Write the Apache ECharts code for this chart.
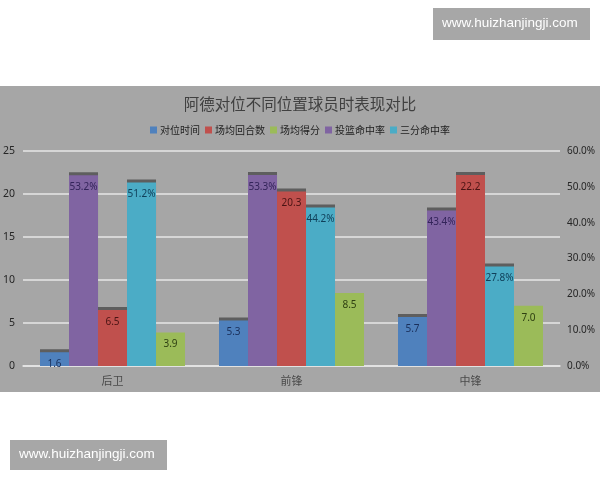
<!DOCTYPE html>
<html><head><meta charset="utf-8">
<script src="https://cdn.jsdelivr.net/npm/echarts@6/dist/echarts.min.js"></script>
<style>html,body{margin:0;padding:0;background:#fff}#c{width:600px;height:480px}</style>
</head><body><div id="c"></div>
<script>
const categories = ['后卫', '前锋', '中锋'];
const matchTime = [1.6, 5.3, 5.7];        // 对位时间
const possessions = [6.5, 20.3, 22.2];    // 场均回合数
const points = [3.9, 8.5, 7.0];           // 场均得分
const fgPct = [53.2, 53.3, 43.4];         // 投篮命中率
const threePct = [51.2, 44.2, 27.8];      // 三分命中率
const leftTicks = [0, 5, 10, 15, 20, 25];
const rightTicks = [0, 10, 20, 30, 40, 50, 60];

const chart = echarts.init(document.getElementById('c'));
const cap = {shadowColor: 'rgba(70,70,70,0.75)', shadowBlur: 0, shadowOffsetY: -3, shadowOffsetX: 0};
function bar(name, data, color, labelColor, axis, pct, withCap) {
  return {
    name, type: 'bar', data, yAxisIndex: axis, barWidth: 29, barGap: '0%',
    itemStyle: Object.assign({color}, withCap ? cap : {}),
    label: {show: true, position: 'insideTop', distance: 7, color: labelColor, fontSize: 10,
      fontFamily: 'Noto Sans',
      formatter: p => pct ? p.value.toFixed(1) + '%' : p.value.toFixed(1)}
  };
}
chart.setOption({
  backgroundColor: '#fff',
  animation: false,
  graphic: [
    {type: 'rect', shape: {x: 0, y: 86, width: 600, height: 306}, style: {fill: '#a6a6a6'}, z: -10},
    {type: 'rect', shape: {x: 433, y: 8, width: 157, height: 32}, style: {fill: '#a7a7a7'}},
    {type: 'text', left: 442, top: 16, style: {text: 'www.huizhanjingji.com', fill: '#fff', font: '13.5px "Liberation Sans", Arial'}},
    {type: 'rect', shape: {x: 10, y: 440, width: 157, height: 30}, style: {fill: '#a7a7a7'}},
    {type: 'text', left: 19, top: 447, style: {text: 'www.huizhanjingji.com', fill: '#fff', font: '13.5px "Liberation Sans", Arial'}}
  ],
  title: {text: '阿德对位不同位置球员时表现对比', left: 'center', top: 91,
    textStyle: {fontFamily: 'Noto Sans CJK SC', fontWeight: 'normal', fontSize: 15.5, color: '#404040'}},
  legend: {top: 120, left: 'center', itemWidth: 7, itemHeight: 7, itemGap: 5,
    icon: 'rect',
    data: ['对位时间', '场均回合数', '场均得分', '投篮命中率', '三分命中率'],
    textStyle: {fontFamily: 'Noto Sans CJK SC', fontSize: 10, color: '#1f1f1f', padding: [0, 0, 0, -2]}},
  grid: {left: 23, right: 40, top: 151, bottom: 114},
  xAxis: {type: 'category', data: categories,
    axisLine: {lineStyle: {color: '#e6e6e6', width: 1.5}}, axisTick: {show: false},
    axisLabel: {margin: 9, fontFamily: 'Noto Sans CJK SC', fontSize: 11, color: '#4a4a4a'}},
  yAxis: [
    {type: 'value', min: 0, max: 25, interval: 5, position: 'left',
      axisLine: {show: false}, axisTick: {show: false},
      splitLine: {lineStyle: {color: '#e6e6e6', width: 1.5}},
      axisLabel: {margin: 8, fontFamily: 'Noto Sans', fontSize: 10.5, color: '#262626',
        formatter: v => leftTicks.includes(v) ? String(v) : ''}},
    {type: 'value', min: 0, max: 60, interval: 10, position: 'right',
      axisLine: {show: false}, axisTick: {show: false}, splitLine: {show: false},
      axisLabel: {margin: 7, fontFamily: 'Noto Sans', fontSize: 10, color: '#262626',
        formatter: v => rightTicks.includes(v) ? v.toFixed(1) + '%' : ''}}
  ],
  series: [
    bar('对位时间', matchTime, '#4f81bd', '#1a2f5a', 0, false, true),
    bar('投篮命中率', fgPct, '#8064a2', '#33245a', 1, true, true),
    bar('场均回合数', possessions, '#c0504d', '#4a1414', 0, false, true),
    bar('三分命中率', threePct, '#4bacc6', '#10405a', 1, true, true),
    bar('场均得分', points, '#9bbb59', '#2f4012', 0, false, false)
  ]
});
</script></body></html>
